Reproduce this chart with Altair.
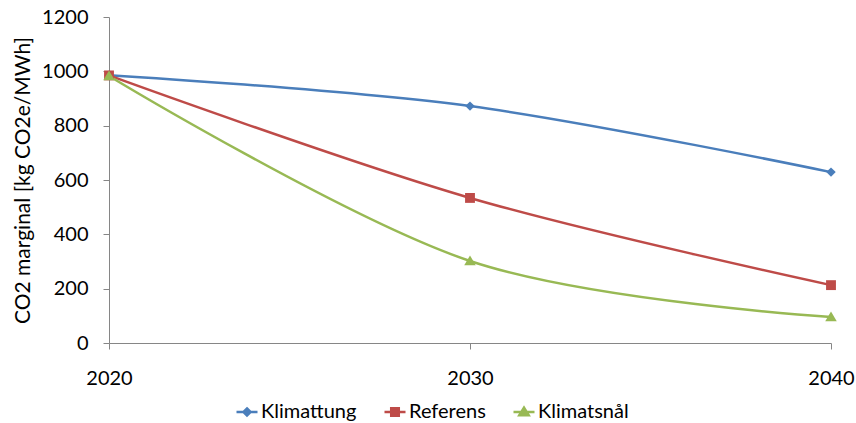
import altair as alt
import pandas as pd

# Marginal CO2 emission factor per scenario
years = [2020, 2030, 2040]
series = ["Klimattung", "Referens", "Klimatsnål"]
klimattung = [986, 872, 629]
referens = [985, 534, 213]
klimatsnal = [983, 302, 96]

colors = ["#4A7EBB", "#BE4B48", "#98B954"]
# Filled marker outlines (unit square, scaled by the symbol size)
markers = [
    "M0,-0.45L0.45,0L0,0.45L-0.45,0Z",
    "M-0.47,-0.47L0.47,-0.47L0.47,0.47L-0.47,0.47Z",
    "M0,-0.52L0.55,0.42L-0.55,0.42Z",
]
# Legend keys: a short line through a slightly smaller marker (its outline is stroked)
keys = [
    "M-1,0L1,0M0,-0.34L0.34,0L0,0.34L-0.34,0Z",
    "M-1,0L1,0M-0.36,-0.36L0.36,-0.36L0.36,0.36L-0.36,0.36Z",
    "M-1,0L1,0M0,-0.42L0.45,0.32L-0.45,0.32Z",
]

rows = []
for name, vals in zip(series, [klimattung, referens, klimatsnal]):
    for yr, v in zip(years, vals):
        rows.append({"year": yr, "value": v, "series": name})
df = pd.DataFrame(rows)

FONT = "Lato"
SIZE = 441

x_enc = alt.X(
    "year:Q",
    scale=alt.Scale(domain=[2020, 2040], nice=False, zero=False),
    axis=alt.Axis(values=years, format="d", title=None, grid=False,
                  tickSize=6, labelPadding=19, labelFlush=False),
)
y_enc = alt.Y(
    "value:Q",
    scale=alt.Scale(domain=[0, 1200], nice=False),
    axis=alt.Axis(values=[0, 200, 400, 600, 800, 1000, 1200], format="d", grid=False,
                  title="CO2 marginal [kg CO2e/MWh]", tickSize=6,
                  labelPadding=15, titlePadding=8),
)

base = alt.Chart(df)

# One smoothed line and one marker set per scenario
line_layers = []
point_layers = []
for name, col, mk in zip(series, colors, markers):
    sub = base.transform_filter(alt.datum.series == name)
    line_layers.append(
        sub.mark_line(interpolate="cardinal", strokeWidth=2.5, color=col).encode(x=x_enc, y=y_enc)
    )
    point_layers.append(
        sub.mark_point(filled=True, size=SIZE, shape=mk, color=col, opacity=1).encode(x=x_enc, y=y_enc)
    )

# Legend only: no rows survive the filter, entries come from the scale domains
legend = alt.Legend(
    title=None, orient="none", direction="horizontal", legendX=126, legendY=383,
    labelFont=FONT, labelFontSize=20, labelColor="#000000",
    symbolSize=SIZE, symbolStrokeWidth=2.5, labelOffset=2, columnPadding=22,
)
legend_layer = base.transform_filter("false").mark_point(
    filled=True, size=SIZE, strokeWidth=2.5, opacity=1
).encode(
    x=x_enc,
    y=y_enc,
    fill=alt.Fill("series:N", scale=alt.Scale(domain=series, range=colors), legend=legend),
    stroke=alt.Stroke("series:N", scale=alt.Scale(domain=series, range=colors), legend=legend),
    shape=alt.Shape("series:N", scale=alt.Scale(domain=series, range=keys), legend=legend),
)

chart = (
    alt.layer(*line_layers, *point_layers, legend_layer)
    .properties(
        width=722, height=326,
        autosize=alt.AutoSizeParams(type="none"),
        padding={"left": 109, "top": 17, "right": 25, "bottom": 80},
        background="white",
    )
    .configure_view(stroke=None)
    .configure_axis(
        domainColor="#868686", tickColor="#868686", domainWidth=1, tickWidth=1,
        labelFont=FONT, labelFontSize=20, labelColor="#000000",
        titleFont=FONT, titleFontSize=21, titleColor="#000000", titleFontWeight="normal",
    )
)

chart.save("out.html", embed_options={"renderer": "svg", "actions": False})
